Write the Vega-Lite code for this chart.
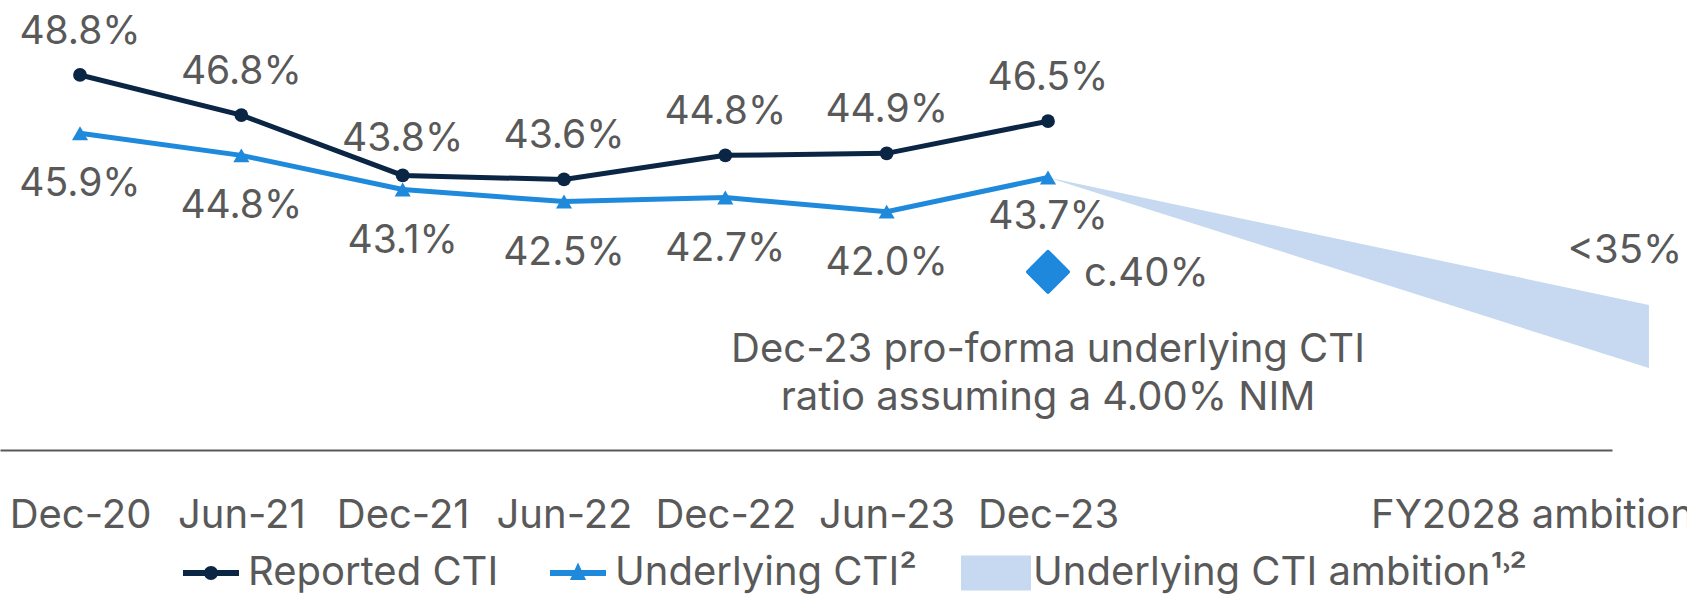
{
  "$schema": "https://vega.github.io/schema/vega-lite/v6.json",
  "width": 1612,
  "height": 450,
  "autosize": {"type": "none"},
  "padding": {"left": 0, "top": 0, "right": 75, "bottom": 144},
  "background": "white",
  "config": {"view": {"stroke": null}},
  "datasets": {
    "cti": [
      {"period": "Dec-20", "idx": 0, "series": "Reported CTI", "value": 0.488},
      {"period": "Jun-21", "idx": 1, "series": "Reported CTI", "value": 0.468},
      {"period": "Dec-21", "idx": 2, "series": "Reported CTI", "value": 0.438},
      {"period": "Jun-22", "idx": 3, "series": "Reported CTI", "value": 0.436},
      {"period": "Dec-22", "idx": 4, "series": "Reported CTI", "value": 0.448},
      {"period": "Jun-23", "idx": 5, "series": "Reported CTI", "value": 0.449},
      {"period": "Dec-23", "idx": 6, "series": "Reported CTI", "value": 0.465},
      {"period": "Dec-20", "idx": 0, "series": "Underlying CTI", "value": 0.459},
      {"period": "Jun-21", "idx": 1, "series": "Underlying CTI", "value": 0.448},
      {"period": "Dec-21", "idx": 2, "series": "Underlying CTI", "value": 0.431},
      {"period": "Jun-22", "idx": 3, "series": "Underlying CTI", "value": 0.425},
      {"period": "Dec-22", "idx": 4, "series": "Underlying CTI", "value": 0.427},
      {"period": "Jun-23", "idx": 5, "series": "Underlying CTI", "value": 0.420},
      {"period": "Dec-23", "idx": 6, "series": "Underlying CTI", "value": 0.437}
    ],
    "ambition": [
      {"idx": 6, "value": 0.437, "lower": 0.437, "series": "Underlying CTI ambition"},
      {"idx": 9.725, "value": 0.3736, "lower": 0.3422, "series": "Underlying CTI ambition"}
    ],
    "proforma": [
      {"idx": 6, "value": 0.40, "label": "c.40%", "note": "Dec-23 pro-forma underlying CTI\nratio assuming a 4.00% NIM"}
    ]
  },
  "encoding": {
    "x": {
      "field": "idx", "type": "quantitative",
      "scale": {"domain": [-0.496, 9.496], "nice": false, "zero": false},
      "axis": {
        "values": [0, 1, 2, 3, 4, 5, 6, 9],
        "labelExpr": "['Dec-20','Jun-21','Dec-21','Jun-22','Dec-22','Jun-23','Dec-23','','','FY2028 ambition'][datum.value]",
        "title": null, "ticks": false, "grid": false,
        "domainColor": "#595959", "domainWidth": 2,
        "labelFont": "Inter", "labelFontSize": 40, "labelColor": "#595959",
        "labelPadding": 77, "labelBaseline": "alphabetic", "labelLimit": 0,
        "labelOverlap": false, "labelFlush": false, "labelBound": false
      }
    },
    "y": {
      "field": "value", "type": "quantitative",
      "scale": {"domain": [0.3014, 0.5253], "nice": false, "zero": false},
      "axis": null
    }
  },
  "layer": [
    {
      "data": {"name": "ambition"},
      "mark": {"type": "area", "color": "#C6D9F0", "opacity": 1},
      "encoding": {"y2": {"field": "lower"}}
    },
    {
      "data": {"name": "cti"},
      "mark": {"type": "line", "strokeWidth": 5},
      "encoding": {
        "detail": {"field": "series", "type": "nominal"},
        "color": {"condition": {"test": "datum.series === 'Reported CTI'", "value": "#0B2545"}, "value": "#1F8ADB"}
      }
    },
    {
      "data": {"name": "cti"},
      "mark": {"type": "point", "filled": true, "opacity": 1},
      "encoding": {
        "color": {"condition": {"test": "datum.series === 'Reported CTI'", "value": "#0B2545"}, "value": "#1F8ADB"},
        "shape": {"condition": {"test": "datum.series === 'Reported CTI'", "value": "circle"}, "value": "triangle-up"},
        "size": {"condition": {"test": "datum.series === 'Reported CTI'", "value": 190}, "value": 260}
      }
    },
    {
      "data": {"name": "cti"},
      "transform": [{"filter": "datum.series === 'Reported CTI' && datum.period !== 'Dec-21'"}],
      "mark": {"type": "text", "font": "Inter", "fontSize": 39, "color": "#595959", "baseline": "alphabetic", "align": "center", "dy": -31},
      "encoding": {"text": {"field": "value", "type": "quantitative", "format": ".1%"}}
    },
    {
      "data": {"name": "cti"},
      "transform": [{"filter": "datum.series === 'Reported CTI' && datum.period === 'Dec-21'"}],
      "mark": {"type": "text", "font": "Inter", "fontSize": 39, "color": "#595959", "baseline": "alphabetic", "align": "center", "dy": -24},
      "encoding": {"text": {"field": "value", "type": "quantitative", "format": ".1%"}}
    },
    {
      "data": {"name": "cti"},
      "transform": [{"filter": "datum.series === 'Underlying CTI' && datum.period !== 'Dec-23'"}],
      "mark": {"type": "text", "font": "Inter", "fontSize": 39, "color": "#595959", "baseline": "alphabetic", "align": "center", "dy": 63},
      "encoding": {"text": {"field": "value", "type": "quantitative", "format": ".1%"}}
    },
    {
      "data": {"name": "cti"},
      "transform": [{"filter": "datum.series === 'Underlying CTI' && datum.period === 'Dec-23'"}],
      "mark": {"type": "text", "font": "Inter", "fontSize": 39, "color": "#595959", "baseline": "alphabetic", "align": "center", "dy": 52},
      "encoding": {"text": {"field": "value", "type": "quantitative", "format": ".1%"}}
    },
    {
      "data": {"name": "proforma"},
      "mark": {"type": "point", "shape": "diamond", "filled": true, "size": 1600, "color": "#1E88DC", "opacity": 1, "stroke": "#1E88DC", "strokeWidth": 4, "strokeJoin": "round", "yOffset": 20}
    },
    {
      "data": {"name": "proforma"},
      "mark": {"type": "text", "font": "Inter", "fontSize": 40, "color": "#595959", "baseline": "alphabetic", "align": "left", "dx": 36, "dy": 34},
      "encoding": {"text": {"field": "label", "type": "nominal"}}
    },
    {
      "data": {"name": "proforma"},
      "mark": {"type": "text", "font": "Inter", "fontSize": 40, "color": "#595959", "baseline": "alphabetic", "align": "center", "dy": 110, "lineBreak": "\n", "lineHeight": 48},
      "encoding": {"text": {"field": "note", "type": "nominal"}}
    },
    {
      "data": {"name": "ambition"},
      "transform": [{"filter": "datum.idx > 6"}],
      "mark": {"type": "text", "text": "<35%", "font": "Inter", "fontSize": 40, "color": "#595959", "baseline": "alphabetic", "align": "center", "dx": -24, "dy": -42}
    },
    {
      "data": {"name": "cti"},
      "mark": {"type": "point", "filled": true, "opacity": 0},
      "encoding": {
        "color": {
          "field": "series", "type": "nominal",
          "scale": {"domain": ["Reported CTI", "Underlying CTI", "Underlying CTI ambition"], "range": ["#0B2545", "#1F8ADB", "#C6D9F0"]},
          "legend": {
            "title": null, "orient": "none", "legendX": 176, "legendY": 538, "direction": "horizontal",
            "symbolSize": 4900, "symbolStrokeWidth": 0, "symbolOpacity": 1,
            "labelFont": "Inter", "labelFontSize": 40, "labelColor": "#595959", "labelOffset": 2,
            "columnPadding": 44, "padding": 0, "labelLimit": 600,
            "labelExpr": "datum.label === 'Underlying CTI' ? 'Underlying CTI²' : datum.label === 'Underlying CTI ambition' ? 'Underlying CTI ambition¹˒²' : datum.label"
          }
        },
        "shape": {
          "field": "series", "type": "nominal",
          "scale": {"domain": ["Reported CTI", "Underlying CTI", "Underlying CTI ambition"], "range": [
            "M-0.8,-0.086H0.8V0.086H-0.8Z M-0.2,0A0.2,0.2 0 1,1 0.2,0A0.2,0.2 0 1,1 -0.2,0Z",
            "M-0.8,-0.086H0.8V0.086H-0.8Z M0,-0.3L0.23,0.2L-0.23,0.2Z",
            "M-1,-0.5H1V0.5H-1Z"
          ]},
          "legend": {
            "title": null, "orient": "none", "legendX": 176, "legendY": 538, "direction": "horizontal",
            "symbolSize": 4900, "symbolStrokeWidth": 0, "symbolOpacity": 1,
            "labelFont": "Inter", "labelFontSize": 40, "labelColor": "#595959", "labelOffset": 2,
            "columnPadding": 44, "padding": 0, "labelLimit": 600,
            "labelExpr": "datum.label === 'Underlying CTI' ? 'Underlying CTI²' : datum.label === 'Underlying CTI ambition' ? 'Underlying CTI ambition¹˒²' : datum.label"
          }
        }
      }
    }
  ]
}
